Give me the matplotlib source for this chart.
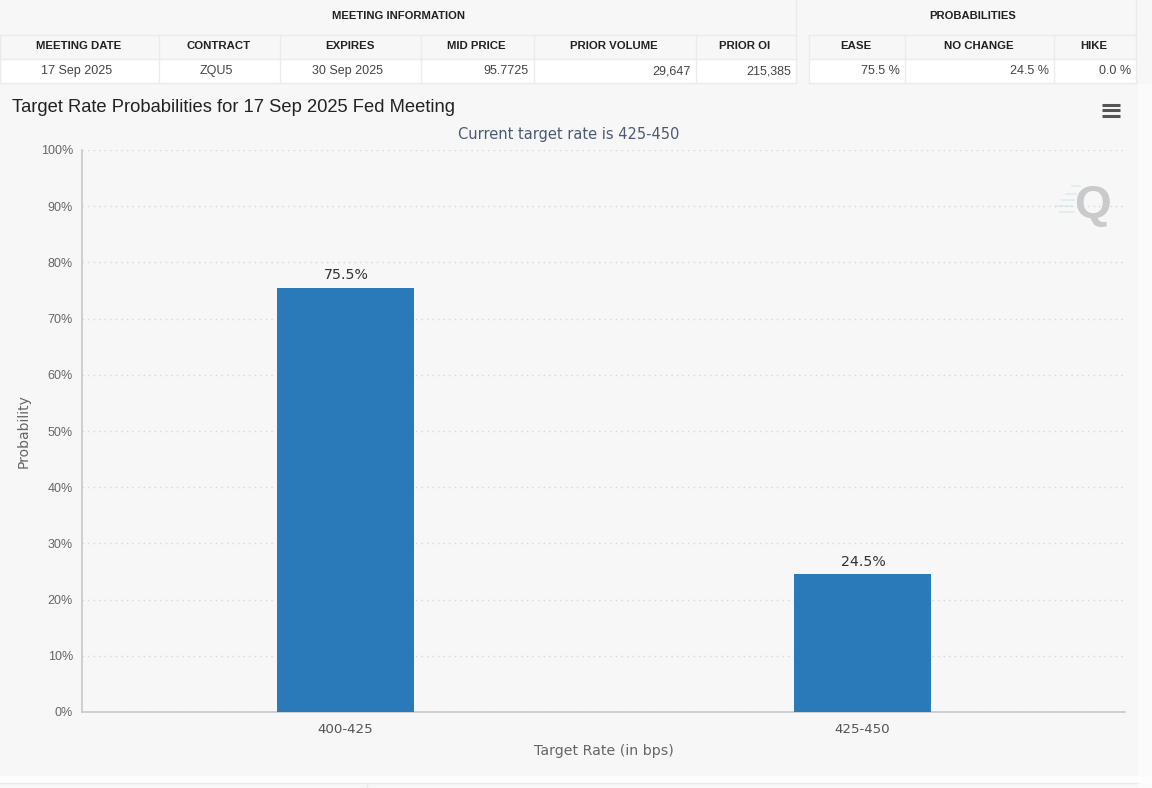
"""Target rate probabilities chart with the meeting info table on top."""

import matplotlib

matplotlib.use("Agg")
import matplotlib.pyplot as plt
from matplotlib.patches import Rectangle

WIDTH = 1152
HEIGHT = 788

categories = ["400-425", "425-450"]
probabilities = [75.5, 24.5]
y_ticks = [0, 10, 20, 30, 40, 50, 60, 70, 80, 90, 100]

info_headers = ["MEETING DATE", "CONTRACT", "EXPIRES", "MID PRICE", "PRIOR VOLUME", "PRIOR OI"]
info_values = ["17 Sep 2025", "ZQU5", "30 Sep 2025", "95.7725", "29,647", "215,385"]
info_aligns = ["center", "center", "center", "right", "right", "right"]
info_edges = [0, 159, 280, 421, 534, 696, 796]

prob_headers = ["EASE", "NO CHANGE", "HIKE"]
prob_values = ["75.5 %", "24.5 %", "0.0 %"]
prob_aligns = ["right", "right", "right"]
prob_edges = [809, 905, 1054, 1136]

BG = "#f7f7f7"
LINE = "#ebebeb"
BAR = "#2a7ab9"

plt.rcParams["font.family"] = ["Liberation Sans", "DejaVu Sans"]

fig = plt.figure(figsize=(WIDTH / 100, HEIGHT / 100), dpi=100, facecolor=BG)

# overlay in pixel coordinates for the table and page furniture
page = fig.add_axes([0, 0, 1, 1], zorder=0)
page.set_xlim(0, WIDTH)
page.set_ylim(HEIGHT, 0)
page.axis("off")


def draw_table(edges, title, headers, values, aligns):
    x0, x1 = edges[0], edges[-1]
    page.add_patch(Rectangle((x0, 59), x1 - x0, 24, fc="white", ec="none"))
    page.text((x0 + x1) / 2, 16, title, fontsize=8.1, fontweight="bold",
              color="#222222", ha="center", va="center")
    for y in (35, 59, 83):
        page.plot([x0, x1], [y, y], color=LINE, lw=1)
    page.plot([x1, x1], [0, 83], color=LINE, lw=1)
    for i, (head, val, align) in enumerate(zip(headers, values, aligns)):
        left, right = edges[i], edges[i + 1]
        page.plot([left, left], [35, 83], color=LINE, lw=1)
        page.text((left + right) / 2 - 1, 46, head, fontsize=8.2, fontweight="bold",
                  color="#222222", ha="center", va="center")
        x = (left + right) / 2 - 3 if align == "center" else right - 5
        page.text(x, 71, val, fontsize=9, color="#444444", ha=align, va="center")


draw_table(info_edges, "MEETING INFORMATION", info_headers, info_values, info_aligns)
draw_table(prob_edges, "PROBABILITIES", prob_headers, prob_values, prob_aligns)
page.plot([0, 0], [35, 83], color=LINE, lw=1)

page.text(12, 107, "Target Rate Probabilities for 17 Sep 2025 Fed Meeting",
          fontsize=13.25, color="#222222", ha="left", va="center")
page.text(569, 134, "Current target rate is 425-450", fontsize=10.5,
          family="DejaVu Sans", color="#4d5a73", ha="center", va="center")

# menu icon
for y in (104.5, 110, 115.5):
    page.plot([1102, 1120], [y, y], color="#555555", lw=2.2, solid_capstyle="butt")

# watermark
for x, y, length in [(1062, 200, 12), (1056, 206, 16), (1060, 212, 14), (1066, 194, 10), (1072, 186, 8)]:
    page.plot([x, x + length], [y, y], color="#dcecf2", lw=1.2)
page.text(1092, 206, "Q", fontsize=34, fontweight="bold", color="#c8cacc",
          ha="center", va="center", zorder=3)

# bands at the right edge and the bottom
page.add_patch(Rectangle((1138, 84), 14, 704, fc="#fbfbfb", ec="none"))
page.add_patch(Rectangle((0, 776), WIDTH, 7, fc="#fdfdfd", ec="none"))
page.plot([0, 1138], [783, 783], color=LINE, lw=1)
page.plot([367, 367], [783, 788], color=LINE, lw=1)

# chart axes, 82..1125 px across and 150..712 px down
ax = fig.add_axes([82 / WIDTH, 1 - 712 / HEIGHT, 1043 / WIDTH, 562 / HEIGHT], zorder=1)
ax.patch.set_alpha(0)
ax.bar(range(len(categories)), probabilities, width=0.265, color=BAR, zorder=3)
for i, value in enumerate(probabilities):
    ax.annotate(f"{value}%", (i, value), xytext=(0.8, 4), textcoords="offset points",
                ha="center", va="bottom", fontsize=10.2, family="DejaVu Sans", color="#333333")

ax.set_xlim(-0.509, 1.508)
ax.set_ylim(0, 100)
ax.set_xticks(range(len(categories)), categories)
ax.set_yticks(y_ticks, [f"{t}%" for t in y_ticks])
ax.grid(axis="y", color="#d6d6d6", linestyle=(0, (1, 3)), lw=1, zorder=0)
ax.set_axisbelow(True)
ax.tick_params(axis="y", length=0, pad=6.5, labelsize=9, labelcolor="#666666")
ax.tick_params(axis="x", length=0, pad=8, labelsize=9.6, labelcolor="#555555")
for label in ax.get_xticklabels():
    label.set_family("DejaVu Sans")
for side in ("top", "right"):
    ax.spines[side].set_visible(False)
for side in ("left", "bottom"):
    ax.spines[side].set_color("#c8c8c8")
    ax.spines[side].set_linewidth(1.2)
ax.set_xlabel("Target Rate (in bps)", fontsize=10.2, family="DejaVu Sans", color="#666666", labelpad=6)
ax.set_ylabel("Probability", fontsize=10, family="DejaVu Sans", color="#666666", labelpad=7)

fig.savefig("out.png", dpi=100, facecolor=BG)
